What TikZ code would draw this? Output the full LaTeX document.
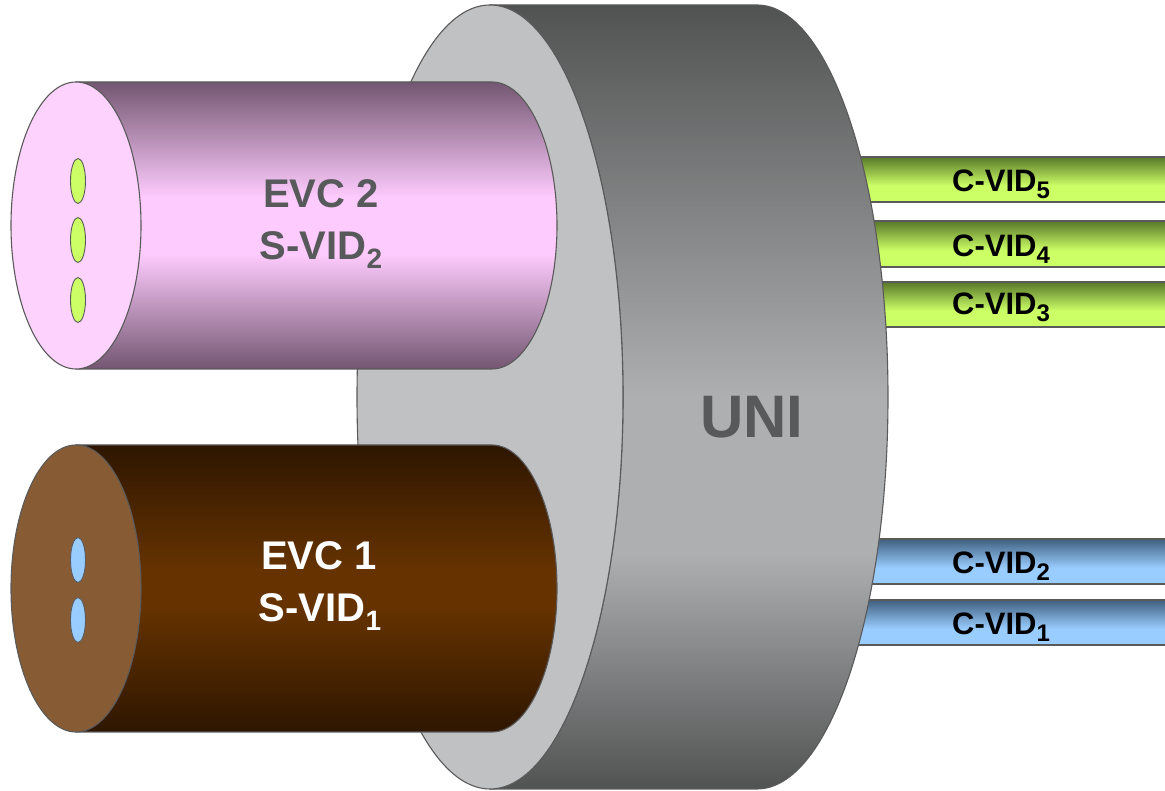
\documentclass[tikz,border=0pt]{standalone}
\usepackage{fontspec}
\setmainfont{Liberation Sans}
\definecolor{edge}{HTML}{5A5A5A}
\definecolor{unidark}{HTML}{515252}
\definecolor{unilight}{HTML}{AEAFB0}
\definecolor{uniface}{HTML}{C0C1C3}
\definecolor{greytext}{HTML}{58595B}
\definecolor{pinkdark}{HTML}{735671}
\definecolor{pinklight}{HTML}{FDCBFD}
\definecolor{pinkface}{HTML}{FDD3FD}
\definecolor{browndark}{HTML}{2E1600}
\definecolor{brownlight}{HTML}{663300}
\definecolor{brownface}{HTML}{875C35}
\definecolor{greendark}{HTML}{587829}
\definecolor{greenlight}{HTML}{CCFF66}
\definecolor{bluedark}{HTML}{40607F}
\definecolor{bluelight}{HTML}{99CCFF}
\pgfdeclareverticalshading{unishade}{100bp}{color(0bp)=(unidark); color(25bp)=(unidark); color(40bp)=(unilight); color(50bp)=(unilight); color(75bp)=(unidark); color(100bp)=(unidark)}
\pgfdeclareverticalshading{pinkshade}{100bp}{color(0bp)=(pinkdark); color(25bp)=(pinkdark); color(45bp)=(pinklight); color(55bp)=(pinklight); color(75bp)=(pinkdark); color(100bp)=(pinkdark)}
\pgfdeclareverticalshading{brownshade}{100bp}{color(0bp)=(browndark); color(25bp)=(browndark); color(47bp)=(brownlight); color(53bp)=(brownlight); color(75bp)=(browndark); color(100bp)=(browndark)}
\pgfdeclareverticalshading{greenshade}{100bp}{color(0bp)=(greenlight); color(25bp)=(greenlight); color(43bp)=(greenlight); color(75bp)=(greendark); color(100bp)=(greendark)}
\pgfdeclareverticalshading{blueshade}{100bp}{color(0bp)=(bluelight); color(25bp)=(bluelight); color(43bp)=(bluelight); color(75bp)=(bluedark); color(100bp)=(bluedark)}
\newcommand{\csub}[1]{\raisebox{-7pt}{\fontsize{24}{24}\selectfont #1}}
\newcommand{\esub}[1]{\raisebox{-9pt}{\fontsize{28}{28}\selectfont #1}}
\begin{document}
\begin{tikzpicture}[x=1pt,y=1pt,line join=round,
  outl/.style={draw=edge,line width=1.1pt},
  dotline/.style={draw=edge,line width=0.9pt},
  bartxt/.style={anchor=base west,inner sep=0pt,text=black,font=\bfseries\fontsize{31}{31}\selectfont},
  evctxt/.style={anchor=base,inner sep=0pt,font=\bfseries\fontsize{40}{40}\selectfont},
  unitxt/.style={anchor=base,inner sep=0pt,text=greytext,font=\bfseries\fontsize{60}{60}\selectfont}]
\useasboundingbox (0,0) rectangle (1165,791);
\clip (0,0) rectangle (1165,791);
% C-VID bars
\foreach \t/\b in {634/589,570/524,509/464}
  \path[shade,shading=greenshade,outl] (820,\b) rectangle (1180,\t);
\foreach \t/\b in {252/207,191/146}
  \path[shade,shading=blueshade,outl] (820,\b) rectangle (1180,\t);
% UNI cylinder
\path[shade,shading=unishade,outl] (490,786) -- (757,786)
  arc[start angle=90,end angle=-90,x radius=131,y radius=392] -- (490,2)
  arc[start angle=-90,end angle=90,x radius=133,y radius=392] -- cycle;
\path[outl,fill=uniface] (490,394) ellipse[x radius=133,y radius=392];
% EVC 2 cylinder
\path[shade,shading=pinkshade,outl] (76,709) -- (492,709)
  arc[start angle=90,end angle=-90,x radius=65,y radius=143.5] -- (76,422) -- cycle;
\path[outl,fill=pinkface] (76,565.5) ellipse[x radius=65,y radius=143.5];
\foreach \y in {610,551,491}
  \path[dotline,fill=greenlight] (78,\y) ellipse[x radius=7.5,y radius=22.5];
% EVC 1 cylinder
\path[shade,shading=brownshade,outl] (76,346) -- (492,346)
  arc[start angle=90,end angle=-90,x radius=65,y radius=143.5] -- (76,59) -- cycle;
\path[outl,fill=brownface] (76,202.5) ellipse[x radius=65,y radius=143.5];
\foreach \y in {231,171}
  \path[dotline,fill=bluelight] (78,\y) ellipse[x radius=7.5,y radius=22.5];
% texts
\node[evctxt,text=greytext] (evc2a) at (321,583) {EVC 2};
\node[evctxt,text=greytext] (evc2b) at (321,531) {S-VID\esub{2}};
\node[evctxt,text=white] (evc1a) at (319,221) {EVC 1};
\node[evctxt,text=white] (evc1b) at (320,169) {S-VID\esub{1}};
\node[unitxt] (uni) at (752,353) {UNI};
\node[bartxt] (c5) at (952,599.5) {C-VID\csub{5}};
\node[bartxt] (c4) at (952,534.5) {C-VID\csub{4}};
\node[bartxt] (c3) at (952,476) {C-VID\csub{3}};
\node[bartxt] (c2) at (952,217.5) {C-VID\csub{2}};
\node[bartxt] (c1) at (952,156.5) {C-VID\csub{1}};
\end{tikzpicture}
\end{document}
